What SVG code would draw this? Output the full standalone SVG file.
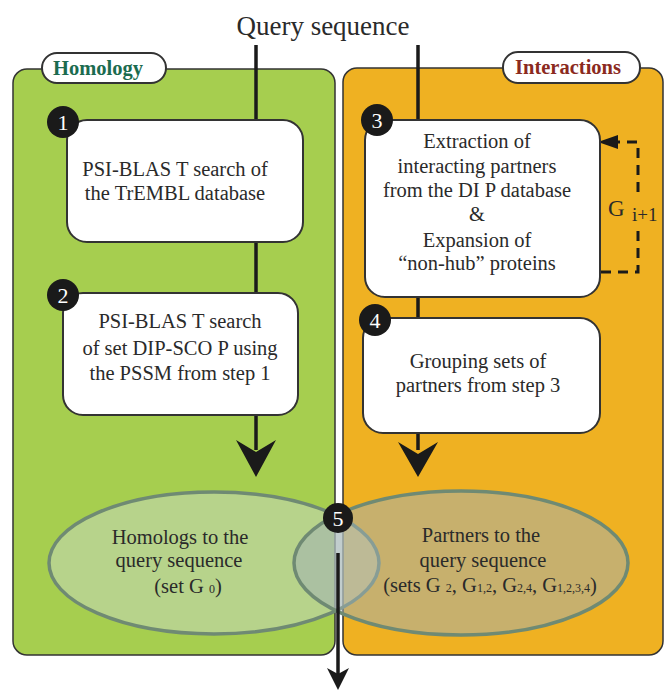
<svg xmlns="http://www.w3.org/2000/svg" width="666" height="692" viewBox="0 0 666 692">
<style>
.t{font-family:"Liberation Serif","Times New Roman",serif;fill:#2a2a2a;font-size:20.5px;text-anchor:middle}
.box{fill:#fff;stroke:#333;stroke-width:2}
.num{fill:#1a1a1a}
.nt{font-family:"Liberation Serif","Times New Roman",serif;fill:#fff;font-size:22px;text-anchor:middle}
.pill{fill:#fff;stroke:#333;stroke-width:2}
.ln{stroke:#1a1a1a;stroke-width:3.5;fill:none}
.ah{fill:#1a1a1a}
.dash{fill:none;stroke:#1a1a1a;stroke-width:3;stroke-dasharray:10,7}
.ell{stroke:#6f8a73;stroke-width:3.5}
.sub{font-size:12px}
</style>
<rect width="666" height="692" fill="#fff"/>
<g id="title"><text class="t" x="323" y="35" style="font-size:27px">Query sequence</text></g>
<g id="panel-homology">
<rect x="13" y="69" width="322" height="586" rx="14" fill="#a6ce4f" stroke="#333" stroke-width="1.5"/>
<rect class="pill" x="42" y="53" width="124" height="30" rx="15"/>
<text x="98" y="75" style="font-family:'Liberation Serif',serif;font-weight:bold;font-size:20.5px;fill:#1b6b4f;text-anchor:middle">Homology</text>
</g>
<g id="panel-interactions">
<rect x="343" y="68" width="320" height="587" rx="14" fill="#efb122" stroke="#333" stroke-width="1.5"/>
<rect class="pill" x="503" y="52" width="137" height="31" rx="15"/>
<text x="568" y="74" style="font-family:'Liberation Serif',serif;font-weight:bold;font-size:20.5px;fill:#8b2a1e;text-anchor:middle">Interactions</text>
</g>
<g id="connectors">
<line class="ln" x1="256" y1="45" x2="256" y2="120"/>
<line class="ln" x1="256" y1="242" x2="256" y2="293"/>
<line class="ln" x1="256" y1="415" x2="256" y2="450"/>
<path class="ah" d="M236,440 L256,452 L276,440 L256,477 Z"/>
<line class="ln" x1="418" y1="45" x2="418" y2="120"/>
<line class="ln" x1="418" y1="297" x2="418" y2="318"/>
<line class="ln" x1="418" y1="433" x2="418" y2="450"/>
<path class="ah" d="M398,442 L418,454 L438,442 L418,477 Z"/>
<path class="dash" d="M601,272 L638,272 L638,228"/>
<path class="dash" d="M638,192 L638,142 L617,142"/>
<path class="ah" d="M598,142 L618,135 L618,149 Z"/>
<text x="608" y="216" style="font-family:'Liberation Serif',serif;font-size:23px;fill:#2a2a2a">G</text>
<text x="632" y="221" style="font-family:'Liberation Serif',serif;font-size:19px;fill:#2a2a2a">i+1</text>
</g>
<g id="step1">
<rect class="box" x="67" y="120" width="236" height="122" rx="20"/>
<text class="t" x="175" y="176">PSI-BLAS T search of</text>
<text class="t" x="175" y="200">the  TrEMBL database</text>
<circle class="num" cx="63" cy="122" r="16"/>
<text class="nt" x="63" y="130">1</text>
</g>
<g id="step2">
<rect class="box" x="63" y="293" width="235" height="122" rx="20"/>
<text class="t" x="180" y="328">PSI-BLAS T search</text>
<text class="t" x="180" y="355">of set DIP-SCO  P using</text>
<text class="t" x="180" y="380">the PSSM from step 1</text>
<circle class="num" cx="63" cy="295" r="16"/>
<text class="nt" x="63" y="303">2</text>
</g>
<g id="step3">
<rect class="box" x="365" y="120" width="235" height="177" rx="20"/>
<text class="t" x="477" y="148">Extraction of</text>
<text class="t" x="477" y="173">interacting partners</text>
<text class="t" x="477" y="197">from the DI P database</text>
<text class="t" x="477" y="221">&amp;</text>
<text class="t" x="477" y="247">Expansion of</text>
<text class="t" x="477" y="270">“non-hub” proteins</text>
<circle class="num" cx="377" cy="120" r="16"/>
<text class="nt" x="377" y="128">3</text>
</g>
<g id="step4">
<rect class="box" x="363" y="318" width="237" height="115" rx="20"/>
<text class="t" x="478" y="368">Grouping sets of</text>
<text class="t" x="478" y="392">partners from step 3</text>
<circle class="num" cx="375" cy="320" r="16"/>
<text class="nt" x="375" y="328">4</text>
</g>
<g id="homologs">
<ellipse class="ell" cx="214" cy="563" rx="165" ry="71" fill="#c8d8c8" fill-opacity="0.5"/>
</g>
<g id="partners">
<ellipse class="ell" cx="461" cy="563" rx="167" ry="72" fill="#a0b0b8" fill-opacity="0.5"/>
</g>
<g id="ellipse-texts">
<text class="t" x="180" y="544">Homologs to the</text>
<text class="t" x="179" y="567">query sequence</text>
<text class="t" x="188" y="593">(set G <tspan class="sub">0</tspan>)</text>
<text class="t" x="481" y="542">Partners to the</text>
<text class="t" x="483" y="567">query sequence</text>
<text class="t" x="490" y="592">(sets G <tspan class="sub">2</tspan>, G<tspan class="sub">1,2</tspan>, G<tspan class="sub">2,4</tspan>, G<tspan class="sub">1,2,3,4</tspan>)</text>
</g>
<g id="output-arrow">
<line class="ln" x1="338" y1="553" x2="338" y2="675"/>
<path class="ah" d="M327,668 L338,674 L349,668 L338,690 Z"/>
</g>
<g id="step5">
<circle class="num" cx="338" cy="518" r="15"/>
<text class="nt" x="338" y="526">5</text>
</g>
</svg>
